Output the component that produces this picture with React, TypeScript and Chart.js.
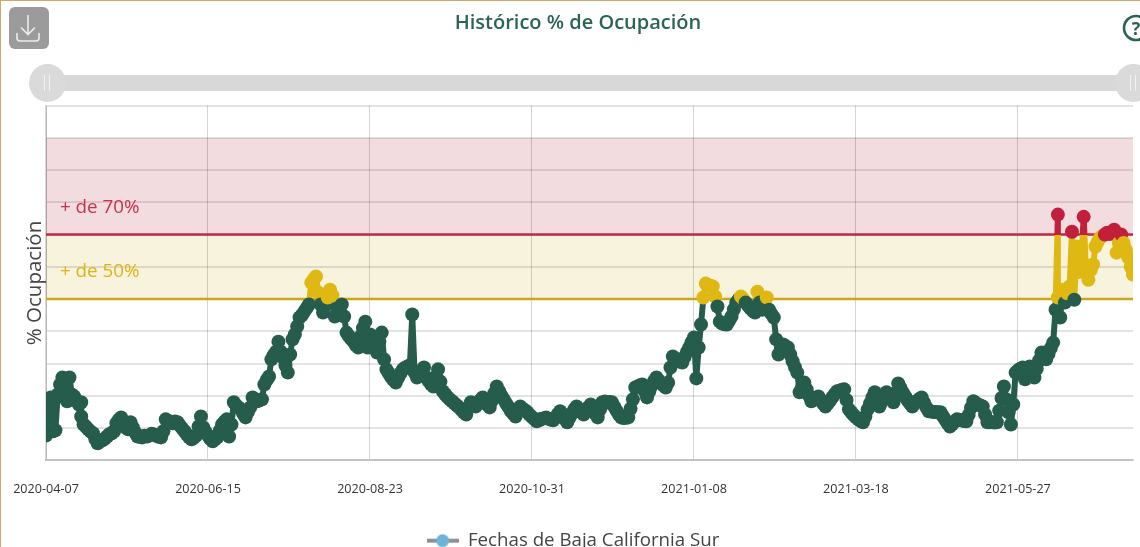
import React, { useEffect, useRef } from "react";
import { Chart, registerables } from "chart.js";

Chart.register(...registerables);

const TITLE = "Histórico % de Ocupación";
const SERIES_NAME = "Fechas de Baja California Sur";
const Y_TITLE = "% Ocupación";
const FONT = '"Open Sans", sans-serif';

const tickDays = [0, 69, 138, 207, 276, 345, 414];
const tickLabels = ["2020-04-07", "2020-06-15", "2020-08-23", "2020-10-31", "2021-01-08", "2021-03-18", "2021-05-27"];

// [days since 2020-04-07, % occupation]
const tramoPrimavera = [
  [0,7.7],[0,12.7],[1,18.9],[2,19.5],[3,9.0],[4,9.3],[5,20.4],[6,23.5],[7,25.7],[8,19.5],[9,18.3],[10,25.7],[11,20.4],[12,19.8],[13,18.4],[14,17.3],[15,18.0],[15,13.6],[16,11.1],[17,10.4],[18,9.6],[19,8.9],[20,8.4],[21,6.6],[22,5.3],[23,5.8],[24,6.2],[25,6.7],[26,7.4],[27,8.1],[28,8.4],[29,9.0],[30,11.5],[31,12.6],[32,13.3],[33,11.1],[34,10.1],[35,9.6],[36,11.8],[37,10.2],[38,8.6],[39,7.4],[40,7.3],[41,7.1],[42,7.6],[43,7.4],[44,7.7],[45,8.2],[46,8.0],[47,7.6],[48,7.3],[49,7.1],[50,9.0],[51,12.7],[52,12.3],[53,11.9],[54,11.5],[55,12.0],[56,11.8],[57,10.8],[58,9.9],[59,9.0],[60,8.0],[61,7.1],[62,6.5],[63,7.0],[64,7.7],[65,10.5],[66,13.6],[67,10.2],[68,8.8],[69,7.7],[70,6.6],[71,5.9],[72,6.5],[73,7.1],[74,9.2],[75,11.1],[76,12.0],[77,12.7],[78,7.4],[79,11.1],[80,18.0],[81,17.0],[82,16.4],[83,15.8],[84,14.4],[85,13.3],
];
const tramoVerano = [
  [86,15.0],[87,16.4],[88,19.5],[89,18.9],[90,18.3],[91,18.6],[92,18.9],[93,23.5],[94,24.9],[95,26.0],[96,31.3],[97,32.6],[98,33.7],[99,36.8],[100,33.7],[101,31.9],[102,29.4],[103,27.2],[104,32.8],[105,37.5],[106,39.0],[107,41.5],[108,44.3],[109,45.0],[110,46.1],[111,47.2],[112,48.3],[113,55.1],[114,56.1],[115,57.0],[116,52.0],[117,48.3],[118,45.8],[119,48.0],[120,50.5],[121,52.9],[122,51.1],[123,44.6],[124,46.0],[125,47.2],[126,48.3],[127,44.6],[128,39.6],[129,38.5],[130,37.6],[131,36.8],[132,35.7],[133,35.0],[134,38.4],[135,41.0],[136,43.0],[137,35.0],[138,39.0],[139,37.0],[140,35.2],[141,33.4],[142,36.8],[143,39.6],[144,31.3],[145,28.2],[146,27.0],[147,25.8],[148,24.9],[149,24.1],[150,25.6],[151,27.0],[152,28.2],[153,28.7],[154,29.1],[155,29.5],[156,45.2],[157,27.2],[158,25.7],[159,27.0],[160,27.9],[161,28.8],[162,25.7],[163,24.6],[164,23.6],[165,22.9],[166,25.9],[167,28.2],[168,24.4],[169,21.4],[170,20.5],[171,19.6],[172,18.9],[173,18.3],
];
const tramoOtono = [
  [174,17.6],[175,17.0],[176,16.4],[177,15.6],[178,14.8],[179,14.2],[180,16.3],[181,18.0],[182,17.2],[183,16.7],[184,17.6],[185,18.7],[186,19.5],[187,18.3],[188,17.2],[189,16.4],[190,18.5],[191,20.8],[192,22.9],[193,21.4],[194,20.0],[195,18.9],[196,17.6],[197,16.5],[198,15.3],[199,14.4],[200,13.6],[201,15.2],[202,16.7],[203,16.0],[204,15.5],[205,14.9],[206,14.1],[207,13.4],[208,12.8],[209,12.1],[210,12.4],[211,12.9],[212,13.0],[213,13.3],[214,12.9],[215,12.6],[216,12.4],[217,13.2],[218,14.3],[219,15.2],[220,14.0],[221,12.8],[222,11.8],[223,13.2],[224,14.5],[225,15.8],[226,16.7],[227,15.8],[228,14.9],[229,14.2],[230,15.4],[231,16.4],[232,17.3],[233,15.9],[234,14.4],[235,13.3],[236,15.8],[237,18.0],[238,18.2],[239,17.9],[240,18.1],[241,18.0],[242,16.7],[243,15.4],[244,14.2],[245,13.3],[246,13.1],[247,13.2],[248,13.3],[249,16.0],[250,18.9],
];
const tramoInvierno = [
  [251,22.6],[252,22.9],[253,23.3],[254,23.5],[255,21.5],[256,19.5],[257,21.4],[258,23.2],[259,24.6],[260,25.7],[261,24.8],[262,23.9],[263,23.2],[264,22.6],[265,24.1],[266,28.8],[267,32.2],[268,31.6],[269,31.0],[270,30.6],[271,30.3],[272,32.0],[273,33.6],[274,35.0],[275,36.6],[276,38.1],[277,25.4],[278,35.0],[279,42.1],[280,50.5],[281,54.8],[282,54.4],[283,54.1],[284,53.9],[285,50.8],[286,47.7],[287,43.0],[288,42.4],[289,42.2],[290,42.1],[291,43.3],[292,44.6],[293,46.8],[294,48.9],[295,49.9],[296,50.8],[297,50.0],[298,48.9],[299,48.0],[300,47.1],[301,46.4],[302,45.8],[303,52.3],[304,48.9],[305,46.7],[306,48.6],[307,50.5],[308,46.7],[309,45.4],[310,44.3],[311,37.5],[312,32.8],[313,34.6],[314,35.9],[315,35.4],[316,35.0],[317,32.8],[318,30.7],[319,28.9],[320,27.2],[321,21.1],
];
const tramoMarzo = [
  [322,22.6],[323,24.1],[324,22.0],[325,20.0],[326,18.3],[327,18.8],[328,19.4],[329,19.8],[330,18.6],[331,17.6],[332,16.7],[333,17.6],[334,18.5],[335,19.6],[336,20.6],[337,21.4],[338,21.6],[339,21.9],[340,22.0],[341,18.7],[342,15.8],[343,14.9],[344,14.0],[345,13.3],[346,12.7],[347,12.2],[348,11.8],[349,13.6],[350,15.8],[351,17.6],[352,19.5],[353,21.1],[354,18.8],[355,16.7],[356,18.2],[357,19.6],[358,21.1],[359,20.0],[360,19.0],[361,18.0],[362,21.0],[363,23.8],[364,22.4],[365,21.0],[366,19.8],[367,18.6],[368,17.6],[369,16.7],[370,17.6],[371,18.4],[372,19.0],[373,19.5],[374,17.9],[375,16.4],[376,15.2],[377,15.1],[378,15.0],[379,15.0],[380,14.9],[381,14.9],[382,13.7],[383,12.6],[384,11.5],[385,10.5],[386,11.2],[387,12.0],[388,12.7],[389,12.6],[390,12.4],[391,12.2],[392,12.1],[393,14.1],[394,16.3],[395,18.3],[396,17.8],[397,17.3],[398,17.0],[399,16.7],[400,14.2],[401,11.8],[402,11.8],[403,11.9],[404,11.7],[405,11.8],
];
const tramoJunio = [
  [406,15.4],[407,19.3],[408,22.9],[409,18.9],[410,14.9],[411,11.1],[412,17.3],[413,27.2],[414,27.9],[415,28.4],[416,28.8],[417,25.1],[418,27.1],[419,29.1],[420,27.4],[421,25.7],[422,28.4],[423,31.0],[424,33.4],[425,32.3],[426,31.3],[427,33.0],[428,34.8],[429,36.5],[430,46.7],[431,76.2],[431,50.5],[432,44.3],[433,52.9],[434,48.9],[435,51.8],[436,53.9],[437,70.9],[438,49.8],[439,66.3],[440,58.4],[441,62.0],[442,75.5],[443,58.2],[444,56.0],[445,59.0],[446,60.7],[447,66.3],[448,67.8],[449,69.0],[450,69.6],[451,70.0],[452,70.6],[453,70.2],[454,70.9],[455,71.5],[456,64.4],[457,67.4],[458,70.0],[459,67.4],[460,65.2],[461,62.8],[462,60.0],[463,57.6],
];

const lecturas = [...tramoPrimavera, ...tramoVerano, ...tramoOtono, ...tramoInvierno, ...tramoMarzo, ...tramoJunio];

const UMBRAL_ALTO = 70;
const UMBRAL_MEDIO = 50;
const TECHO = 100;

const GREEN = "#265C4C";
const GOLD = "#DFB814";
const RED = "#C11F3A";

function zoneGradient(chart: any) {
  const { ctx, scales, chartArea } = chart;
  if (!chartArea) return GREEN;
  const y = scales.y;
  const top = chartArea.top;
  const bottom = chartArea.bottom;
  const g = ctx.createLinearGradient(0, top, 0, bottom);
  const hi = (y.getPixelForValue(UMBRAL_ALTO) - top) / (bottom - top);
  const mid = (y.getPixelForValue(UMBRAL_MEDIO) - top) / (bottom - top);
  g.addColorStop(0, RED);
  g.addColorStop(hi, RED);
  g.addColorStop(hi, GOLD);
  g.addColorStop(mid, GOLD);
  g.addColorStop(mid, GREEN);
  g.addColorStop(1, GREEN);
  return g;
}

const bandsPlugin = {
  id: "bands",
  afterLayout(chart: any) {
    const legend = chart.legend;
    if (legend) {
      legend.left -= 5;
      legend.right -= 5;
    }
  },
  beforeDraw(chart: any) {
    const { ctx, chartArea, scales } = chart;
    const y = scales.y;
    const yTop = y.getPixelForValue(TECHO);
    const yHi = y.getPixelForValue(UMBRAL_ALTO);
    const yMid = y.getPixelForValue(UMBRAL_MEDIO);
    ctx.save();
    ctx.fillStyle = "#F3DCE0";
    ctx.fillRect(chartArea.left, yTop, chartArea.width, yHi - yTop);
    ctx.fillStyle = "#F8F3DD";
    ctx.fillRect(chartArea.left, yHi, chartArea.width, yMid - yHi);
    ctx.restore();
  },
  beforeDatasetsDraw(chart: any) {
    const { ctx, chartArea, scales } = chart;
    const y = scales.y;
    const yHi = y.getPixelForValue(UMBRAL_ALTO);
    const yMid = y.getPixelForValue(UMBRAL_MEDIO);
    ctx.save();
    ctx.lineWidth = 2.5;
    ctx.strokeStyle = "#BE2B45";
    ctx.beginPath();
    ctx.moveTo(chartArea.left, yHi);
    ctx.lineTo(chartArea.right, yHi);
    ctx.stroke();
    ctx.strokeStyle = "#CBA81A";
    ctx.beginPath();
    ctx.moveTo(chartArea.left, yMid);
    ctx.lineTo(chartArea.right, yMid);
    ctx.stroke();
    ctx.font = `18.8px ${FONT}`;
    ctx.textBaseline = "middle";
    ctx.textAlign = "left";
    ctx.fillStyle = "#C8324C";
    ctx.fillText("+ de 70%", chartArea.left + 14, y.getPixelForValue(78.4));
    ctx.fillStyle = "#DDB416";
    ctx.fillText("+ de 50%", chartArea.left + 14, y.getPixelForValue(58.6));
    ctx.restore();
  },
};

function legendSymbol() {
  const c = document.createElement("canvas");
  c.width = 32;
  c.height = 14;
  const x = c.getContext("2d")!;
  x.fillStyle = "#8C9398";
  x.fillRect(0, 5, 32, 4);
  x.fillStyle = "#6DB3DA";
  x.beginPath();
  x.arc(16, 7, 6.5, 0, Math.PI * 2);
  x.fill();
  return c;
}

export default function App() {
  const ref = useRef<HTMLCanvasElement | null>(null);

  useEffect(() => {
    document.body.style.margin = "0";
    document.body.style.overflow = "hidden";
    const symbol = legendSymbol();
    const chart = new Chart(ref.current!, {
      type: "line",
      data: {
        datasets: [
          {
            label: SERIES_NAME,
            data: lecturas.map(([x, y]) => ({ x, y })),
            borderColor: (ctx: any) => zoneGradient(ctx.chart),
            borderWidth: 6,
            borderJoinStyle: "round",
            borderCapStyle: "round",
            tension: 0,
            pointRadius: 7,
            pointBorderWidth: 0,
            pointBackgroundColor: (ctx: any) => {
              const v = ctx.parsed ? ctx.parsed.y : 0;
              return v >= UMBRAL_ALTO ? RED : v >= UMBRAL_MEDIO ? GOLD : GREEN;
            },
            clip: 0,
          } as any,
        ],
      },
      options: {
        responsive: false,
        animation: false,
        layout: { padding: { left: 23, right: 7, top: 0, bottom: -13 } },
        plugins: {
          title: {
            display: true,
            text: TITLE,
            color: "#2B6552",
            font: { family: FONT, size: 20, weight: "600" },
            padding: { top: 11, bottom: 70.6 },
          },
          legend: {
            position: "bottom",
            labels: {
              color: "#444",
              font: { family: FONT, size: 18.7 },
              usePointStyle: true,
              pointStyleWidth: 32,
              padding: 0,
              generateLabels: () => [
                { text: SERIES_NAME, pointStyle: symbol, fontColor: "#444", lineWidth: 0, strokeStyle: "transparent", fillStyle: "transparent", datasetIndex: 0 } as any,
              ],
            },
          },
          tooltip: { enabled: false },
        },
        scales: {
          x: {
            type: "linear",
            min: 0,
            max: 463,
            grid: { color: "rgba(0,0,0,0.17)", lineWidth: 1, drawTicks: false },
            border: { color: "rgba(0,0,0,0.14)", width: 2 },
            afterBuildTicks: (s: any) => {
              s.ticks = tickDays.map((value) => ({ value }));
            },
            afterFit: (s: any) => {
              s.height = 71;
              s.paddingLeft = 0;
              s.paddingRight = 0;
            },
            ticks: {
              autoSkip: false,
              maxRotation: 0,
              padding: 22,
              color: "#333",
              font: { family: FONT, size: 12.6 },
              callback: (v: any) => tickLabels[tickDays.indexOf(v)] ?? "",
            },
          },
          y: {
            min: 0,
            max: 110,
            grid: { color: "rgba(0,0,0,0.11)", lineWidth: 2, drawTicks: false },
            border: { color: "rgba(0,0,0,0.14)", width: 2 },
            ticks: { display: false, stepSize: 10 },
            afterFit: (s: any) => {
              s.width = 23;
            },
            title: {
              display: true,
              text: Y_TITLE,
              color: "#444",
              font: { family: FONT, size: 20.5 },
              padding: { top: 0, bottom: 0 },
            },
          },
        },
      },
      plugins: [bandsPlugin],
    } as any);
    return () => chart.destroy();
  }, []);

  const knob = (cx: number): React.CSSProperties => ({
    position: "absolute",
    left: cx - 18,
    top: 64,
    width: 37,
    height: 38,
    borderRadius: "50%",
    background: "#DADADA",
  });
  const notch = (x: number): React.CSSProperties => ({
    position: "absolute",
    left: x,
    top: 75,
    width: 1,
    height: 16,
    background: "#F2F2F2",
  });

  return (
    <div style={{ position: "relative", width: 1140, height: 547, overflow: "hidden", background: "#fff" }}>
      <canvas ref={ref} width={1140} height={547} style={{ position: "absolute", left: 0, top: 0, display: "block" }} />
      <div style={{ position: "absolute", left: 0, top: 0, width: 1140, height: 1, background: "#D2A76C" }} />
      <div style={{ position: "absolute", left: 0, top: 0, width: 1, height: 547, background: "#D2A76C" }} />
      <div style={{ position: "absolute", left: 9, top: 7, width: 40, height: 42, borderRadius: 6, background: "#9B9B9B" }}>
        <svg width="40" height="42" viewBox="0 0 40 42" fill="none" stroke="#EDEDED" strokeWidth="1.6">
          <path d="M19 8 V27 M12 20.5 L19 27.5 L26 20.5" />
          <path d="M8 26 V31 Q8 34 11 34 H27 Q30 34 30 31 V26" />
        </svg>
      </div>
      <div style={{ position: "absolute", left: 60, top: 75, width: 1060, height: 16, background: "#D8D8D8" }} />
      <div style={knob(47)} />
      <div style={notch(44)} />
      <div style={notch(49)} />
      <div style={knob(1133)} />
      <div style={notch(1130)} />
      <div style={notch(1135)} />
      <svg style={{ position: "absolute", left: 1120, top: 12 }} width="30" height="32" viewBox="0 0 30 32">
        <circle cx="16" cy="16" r="12" fill="none" stroke="#2B6552" strokeWidth="2.6" />
        <text x="16" y="22.5" textAnchor="middle" fontFamily={FONT} fontWeight="700" fontSize="18" fill="#2B6552">?</text>
      </svg>
    </div>
  );
}
